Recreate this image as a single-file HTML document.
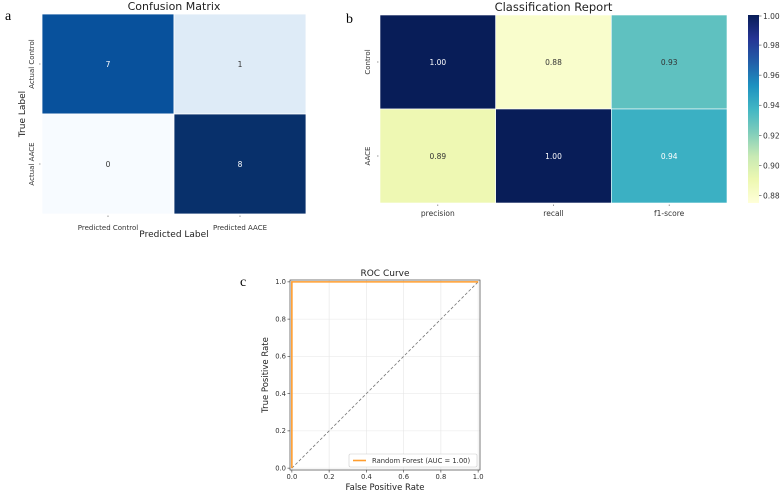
<!DOCTYPE html>
<html><head><meta charset="utf-8"><style>
body{margin:0;background:#fff}
svg{display:block;font-family:"DejaVu Sans","Liberation Sans",sans-serif}
</style></head><body>
<svg id="s" width="783" height="495" xmlns="http://www.w3.org/2000/svg">
<defs>
<linearGradient id="ylgnbu" x1="0" y1="1" x2="0" y2="0">
<stop offset="0" stop-color="#ffffd9"/><stop offset="0.125" stop-color="#edf8b1"/><stop offset="0.25" stop-color="#c7e9b4"/><stop offset="0.375" stop-color="#7fcdbb"/><stop offset="0.5" stop-color="#41b6c4"/><stop offset="0.625" stop-color="#1d91c0"/><stop offset="0.75" stop-color="#225ea8"/><stop offset="0.875" stop-color="#253494"/><stop offset="1" stop-color="#081d58"/>
</linearGradient>
</defs>
<text x="5" y="20" font-family="Liberation Serif,serif" font-size="14">a</text>
<text x="346" y="23" font-family="Liberation Serif,serif" font-size="14">b</text>
<text x="240" y="286" font-family="Liberation Serif,serif" font-size="14">c</text>
<g id="cm"></g>
<g id="cr"></g>
<g id="roc"></g>
</svg>
<script>
const NS="http://www.w3.org/2000/svg";
const cmRows=["Actual Control","Actual AACE"];
const cmCols=["Predicted Control","Predicted AACE"];
const cmValues=[[7,1],[0,8]];
const crRows=["Control","AACE"];
const crCols=["precision","recall","f1-score"];
const crValues=[[1.00,0.88,0.93],[0.89,1.00,0.94]];
const cbTicks=[1.00,0.98,0.96,0.94,0.92,0.90,0.88];
const rocFpr=[0,0,1];
const rocTpr=[0,1,1];
const rocTicks=[0,0.2,0.4,0.6,0.8,1.0];

function el(p,t,a,txt){const e=document.createElementNS(NS,t);for(const k in a)e.setAttribute(k,a[k]);if(txt!==undefined)e.textContent=txt;p.appendChild(e);return e;}
function lerpStops(stops,t){t=Math.max(0,Math.min(1,t));const n=stops.length-1;const i=Math.min(n-1,Math.floor(t*n));const f=t*n-i;const a=stops[i],b=stops[i+1];
 const h=x=>[1,3,5].map(j=>parseInt(x.substr(j,2),16));const A=h(a),B=h(b);return "rgb("+A.map((v,j)=>Math.round(v+(B[j]-v)*f)).join(",")+")";}
const blues=["#f7fbff","#deebf7","#c6dbef","#9ecae1","#6baed6","#4292c6","#2171b5","#08519c","#08306b"];
const ylgnbu=["#ffffd9","#edf8b1","#c7e9b4","#7fcdbb","#41b6c4","#1d91c0","#225ea8","#253494","#081d58"];

// Confusion matrix
(function(){
const g=document.getElementById('cm');
const x0=42,x1=306,y0=14,y1=214;
const cw=(x1-x0)/cmCols.length,ch=(y1-y0)/cmRows.length;
const vmin=0,vmax=8;
let t=el(g,'text',{x:(x0+x1)/2,y:10,'text-anchor':'middle','font-size':'11',fill:'#222'},'Confusion Matrix');

cmValues.forEach((row,i)=>row.forEach((v,j)=>{
 const r=el(g,'rect',{x:x0+j*cw,y:y0+i*ch,width:cw,height:ch,fill:lerpStops(blues,(v-vmin)/(vmax-vmin)),stroke:'#fff','stroke-width':0.8});
 
 const tx=el(g,'text',{x:x0+j*cw+cw/2,y:y0+i*ch+ch/2+3,'text-anchor':'middle','font-size':'7.5',fill:(v-vmin)/(vmax-vmin)>0.5?'#fff':'#333'},String(v));
 
}));
cmRows.forEach((l,i)=>{const y=y0+i*ch+ch/2;
 el(g,'line',{x1:x0-3,x2:x0-1.5,y1:y,y2:y,stroke:'#555','stroke-width':0.6});
 const tx=el(g,'text',{x:0,y:0,transform:`translate(34,${y}) rotate(-90)`,'text-anchor':'middle','font-size':'7',fill:'#333'},l);
 });
cmCols.forEach((l,j)=>{const x=x0+j*cw+cw/2;
 el(g,'line',{x1:x,x2:x,y1:y1+1.5,y2:y1+3,stroke:'#555','stroke-width':0.6});
 const tx=el(g,'text',{x:x,y:230,'text-anchor':'middle','font-size':'7',fill:'#333'},l);
 });
t=el(g,'text',{x:(x0+x1)/2,y:237,'text-anchor':'middle','font-size':'9',fill:'#222'},'Predicted Label');

t=el(g,'text',{x:0,y:0,transform:`translate(25,${(y0+y1)/2}) rotate(-90)`,'text-anchor':'middle','font-size':'9',fill:'#222'},'True Label');

})();

// Classification report
(function(){
const g=document.getElementById('cr');
const x0=380,x1=727,y0=15,y1=203;
const cw=(x1-x0)/crCols.length,ch=(y1-y0)/crRows.length;
const vmin=0.875,vmax=1.0;
let t=el(g,'text',{x:(x0+x1)/2,y:11,'text-anchor':'middle','font-size':'11.5',fill:'#222'},'Classification Report');

crValues.forEach((row,i)=>row.forEach((v,j)=>{
 const f=(v-vmin)/(vmax-vmin);
 const r=el(g,'rect',{x:x0+j*cw,y:y0+i*ch,width:cw,height:ch,fill:lerpStops(ylgnbu,f),stroke:'#fff','stroke-width':0.6});
 
 const tx=el(g,'text',{x:x0+j*cw+cw/2,y:y0+i*ch+ch/2+3,'text-anchor':'middle','font-size':'7.5',fill:f>0.5?'#fff':'#333'},v.toFixed(2));
 
}));
crRows.forEach((l,i)=>{const y=y0+i*ch+ch/2;
 el(g,'line',{x1:x0-3,x2:x0-1.5,y1:y,y2:y,stroke:'#555','stroke-width':0.6});
 const tx=el(g,'text',{x:0,y:0,transform:`translate(370,${y}) rotate(-90)`,'text-anchor':'middle','font-size':'7',fill:'#333'},l);
 });
crCols.forEach((l,j)=>{const x=x0+j*cw+cw/2;
 el(g,'line',{x1:x,x2:x,y1:y1+1.5,y2:y1+3,stroke:'#555','stroke-width':0.6});
 const tx=el(g,'text',{x:x,y:216,'text-anchor':'middle','font-size':'7.5',fill:'#333'},l);
 });
const cx=748,cwid=11;
const cb=el(g,'rect',{x:cx,y:y0,width:cwid,height:y1-y0,fill:'url(#ylgnbu)'});

const cy=v=>y1-(v-vmin)/(vmax-vmin)*(y1-y0);
cbTicks.forEach(v=>{const y=Math.max(cy(v),y0+1);
 el(g,'line',{x1:cx+cwid,x2:cx+cwid+2.5,y1:y,y2:y,stroke:'#444','stroke-width':0.6});
 const tx=el(g,'text',{x:cx+cwid+4,y:y+3,'font-size':'7.5',fill:'#333'},v.toFixed(2));
 });
})();

// ROC
(function(){
const g=document.getElementById('roc');
const X0=290,X1=480,Y0=280,Y1=470;
const lo=-0.01,hi=1.01;
const sx=v=>X0+(v-lo)/(hi-lo)*(X1-X0), sy=v=>Y1-(v-lo)/(hi-lo)*(Y1-Y0);
let t=el(g,'text',{x:(X0+X1)/2,y:276,'text-anchor':'middle','font-size':'9',fill:'#222'},'ROC Curve');

rocTicks.forEach(v=>{
 el(g,'line',{x1:sx(v),x2:sx(v),y1:Y0,y2:Y1,stroke:'#e6e6e6','stroke-width':0.6});
 el(g,'line',{x1:X0,x2:X1,y1:sy(v),y2:sy(v),stroke:'#e6e6e6','stroke-width':0.6});
 el(g,'line',{x1:sx(v),x2:sx(v),y1:Y1,y2:Y1+2.5,stroke:'#333','stroke-width':0.6});
 el(g,'line',{x1:X0-2.5,x2:X0,y1:sy(v),y2:sy(v),stroke:'#333','stroke-width':0.6});
 let a=el(g,'text',{x:sx(v),y:Y1+9,'text-anchor':'middle','font-size':'6.8',fill:'#333'},v.toFixed(1));
 
 a=el(g,'text',{x:X0-4,y:sy(v)+2.3,'text-anchor':'end','font-size':'6.8',fill:'#333'},v.toFixed(1));
 
});
const d=el(g,'line',{x1:sx(0),y1:sy(0),x2:sx(1),y2:sy(1),stroke:'#777','stroke-width':0.8,'stroke-dasharray':'3,2'});

const p=el(g,'polyline',{points:rocFpr.map((f,i)=>sx(f)+','+sy(rocTpr[i])).join(' '),fill:'none',stroke:'#ff9d2e','stroke-width':1.6});

const fr=el(g,'rect',{x:X0,y:Y0,width:X1-X0,height:Y1-Y0,fill:'none',stroke:'#444','stroke-width':0.7});

const lg=el(g,'g',{});
el(lg,'rect',{x:349,y:454,width:128,height:13,fill:'#fff',stroke:'#ccc','stroke-width':0.6,rx:1.5});
el(lg,'line',{x1:353,x2:366,y1:460.5,y2:460.5,stroke:'#ff9d2e','stroke-width':1.6});
el(lg,'text',{x:372,y:463,'font-size':'6.8',fill:'#333'},'Random Forest (AUC = 1.00)');
t=el(g,'text',{x:(X0+X1)/2,y:490,'text-anchor':'middle','font-size':'8.5',fill:'#222'},'False Positive Rate');

t=el(g,'text',{x:0,y:0,transform:`translate(268,${(Y0+Y1)/2}) rotate(-90)`,'text-anchor':'middle','font-size':'8.5',fill:'#222'},'True Positive Rate');

})();
</script>
</body></html>
